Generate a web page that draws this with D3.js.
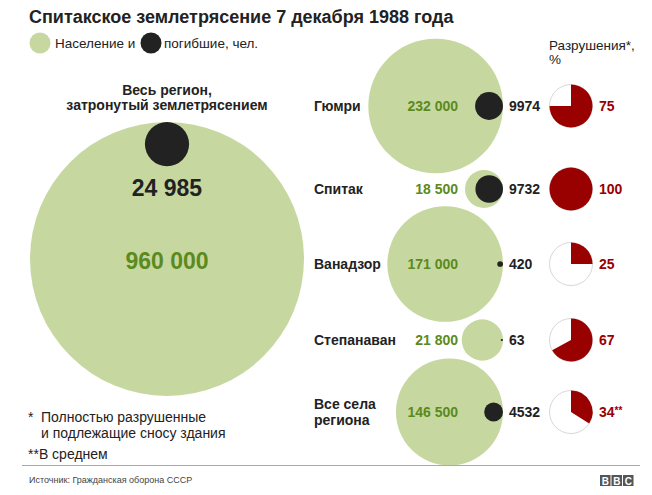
<!DOCTYPE html>
<html><head><meta charset="utf-8">
<script src="https://cdn.jsdelivr.net/npm/d3@7"></script>
<style>
html,body{margin:0;padding:0;background:#fff;}
svg text{font-family:"Liberation Sans",Arial,Helvetica,sans-serif;}
</style></head>
<body>
<svg id="c" width="652" height="495"></svg>
<script>
// ---- data ----
const regions = ["Гюмри", "Спитак", "Ванадзор", "Степанаван", "Все села региона"];
const population = [232000, 18500, 171000, 21800, 146500];
const deaths = [9974, 9732, 420, 63, 4532];
const destruction = [75, 100, 25, 67, 34];
const destructionNotes = ["", "", "", "", "**"];
const totalPopulation = 960000;
const totalDeaths = 24985;

// ---- layout ----
const rowY = [106, 189, 264, 340, 412];
const GREEN = "#c6d8a0", DARKGREEN = "#5b8a1d", BLACK = "#222222", RED = "#990000";
const fmt = v => d3.format(",")(v).replace(/,/g, " ");

const svg = d3.select("#c");
const r = d3.scaleSqrt().domain([0, totalPopulation]).range([0, 137]);

// title
svg.append("text").attr("x", 29).attr("y", 23).attr("font-size", 18).attr("font-weight", "bold")
  .attr("fill", BLACK).text("Спитакское землетрясение 7 декабря 1988 года");

// legend
svg.append("circle").attr("cx", 40).attr("cy", 43).attr("r", 10.5).attr("fill", GREEN);
svg.append("text").attr("x", 55).attr("y", 48).attr("font-size", 13.5).attr("fill", BLACK).text("Население и");
svg.append("circle").attr("cx", 151).attr("cy", 43).attr("r", 10.5).attr("fill", BLACK);
svg.append("text").attr("x", 164).attr("y", 48).attr("font-size", 13.5).attr("fill", BLACK).text("погибшие, чел.");

// big circle
const bigR = r(totalPopulation), bx = 167, bTop = 122;
svg.append("text").attr("x", bx).attr("y", 95).attr("text-anchor", "middle").attr("font-size", 14)
  .attr("font-weight", "bold").attr("fill", BLACK).text("Весь регион,");
svg.append("text").attr("x", bx).attr("y", 110).attr("text-anchor", "middle").attr("font-size", 14)
  .attr("font-weight", "bold").attr("fill", BLACK).text("затронутый землетрясением");
svg.append("circle").attr("cx", bx).attr("cy", bTop + bigR).attr("r", bigR).attr("fill", GREEN);
svg.append("circle").attr("cx", bx).attr("cy", bTop + r(totalDeaths)).attr("r", r(totalDeaths)).attr("fill", BLACK);
svg.append("text").attr("x", bx).attr("y", 188).attr("dy", "0.35em").attr("text-anchor", "middle")
  .attr("font-size", 23).attr("font-weight", "bold").attr("fill", BLACK).text(fmt(totalDeaths));
svg.append("text").attr("x", bx).attr("y", 261).attr("dy", "0.35em").attr("text-anchor", "middle")
  .attr("font-size", 23).attr("font-weight", "bold").attr("fill", DARKGREEN).text(fmt(totalPopulation));

// rows
const rightEdge = 503;
const rows = svg.selectAll("g.row").data(regions).join("g").attr("class", "row")
  .attr("transform", (d, i) => `translate(0,${rowY[i]})`);

rows.append("circle").attr("cx", (d, i) => rightEdge - r(population[i])).attr("cy", 0)
  .attr("r", (d, i) => r(population[i])).attr("fill", GREEN);
rows.append("circle").attr("cx", (d, i) => rightEdge - r(deaths[i])).attr("cy", 0)
  .attr("r", (d, i) => r(deaths[i])).attr("fill", BLACK);

rows.each(function(d, i) {
  const g = d3.select(this);
  const words = d === "Все села региона" ? ["Все села", "региона"] : [d];
  const t = g.append("text").attr("x", 314).attr("font-size", 14).attr("font-weight", "bold").attr("fill", BLACK);
  words.forEach((w, k) => {
    t.append("tspan").attr("x", 314).attr("y", (k - (words.length - 1) / 2) * 15.5).attr("dy", "0.35em").text(w);
  });
});

rows.append("text").attr("x", 458).attr("dy", "0.35em").attr("text-anchor", "end").attr("font-size", 14)
  .attr("font-weight", "bold").attr("fill", DARKGREEN).text((d, i) => fmt(population[i]));
rows.append("text").attr("x", 509).attr("dy", "0.35em").attr("font-size", 14)
  .attr("font-weight", "bold").attr("fill", BLACK).text((d, i) => deaths[i]);

// pies
const pieX = 571, pieR = 21.5;
const pie = d3.pie().sort(null).value(v => v);
const arc = d3.arc().innerRadius(0).outerRadius(pieR);
rows.append("circle").attr("cx", pieX).attr("r", pieR).attr("fill", "#fff").attr("stroke", "#d8d8d8").attr("stroke-width", 1);
rows.each(function(d, i) {
  const g = d3.select(this).append("g").attr("transform", `translate(${pieX},0)`);
  const arcs = pie([destruction[i], 100 - destruction[i]]);
  g.append("path").attr("d", arc(arcs[0])).attr("fill", RED);
});
const pv = rows.append("text").attr("x", 599).attr("dy", "0.35em").attr("font-size", 14)
  .attr("font-weight", "bold").attr("fill", RED);
pv.append("tspan").text((d, i) => destruction[i]);
pv.append("tspan").attr("font-size", 10).attr("dy", "-0.3em").text((d, i) => destructionNotes[i]);

svg.append("text").attr("x", 549).attr("y", 50).attr("font-size", 13.5).attr("fill", BLACK).text("Разрушения*,");
svg.append("text").attr("x", 549).attr("y", 64).attr("font-size", 13.5).attr("fill", BLACK).text("%");

// footnotes
svg.append("text").attr("x", 28).attr("y", 422).attr("font-size", 14).attr("fill", BLACK).text("*");
svg.append("text").attr("x", 41).attr("y", 422).attr("font-size", 14).attr("fill", BLACK).text("Полностью разрушенные");
svg.append("text").attr("x", 41).attr("y", 438).attr("font-size", 14).attr("fill", BLACK).text("и подлежащие сносу здания");
svg.append("text").attr("x", 28).attr("y", 459).attr("font-size", 14).attr("fill", BLACK).text("**В среднем");

// footer
svg.append("line").attr("x1", 22).attr("x2", 640).attr("y1", 465.5).attr("y2", 465.5).attr("stroke", "#aaa").attr("stroke-width", 1);
svg.append("text").attr("x", 29).attr("y", 483).attr("font-size", 9).attr("fill", "#444").text("Источник: Гражданская оборона СССР");
["B", "B", "C"].forEach((ch, k) => {
  const x0 = 600 + k * 11.5;
  svg.append("rect").attr("x", x0).attr("y", 475).attr("width", 10.5).attr("height", 11).attr("fill", "#555");
  svg.append("text").attr("x", x0 + 5.25).attr("y", 484.5).attr("text-anchor", "middle").attr("font-size", 10)
    .attr("font-weight", "bold").attr("fill", "#fff").text(ch);
});
</script>
</body></html>
